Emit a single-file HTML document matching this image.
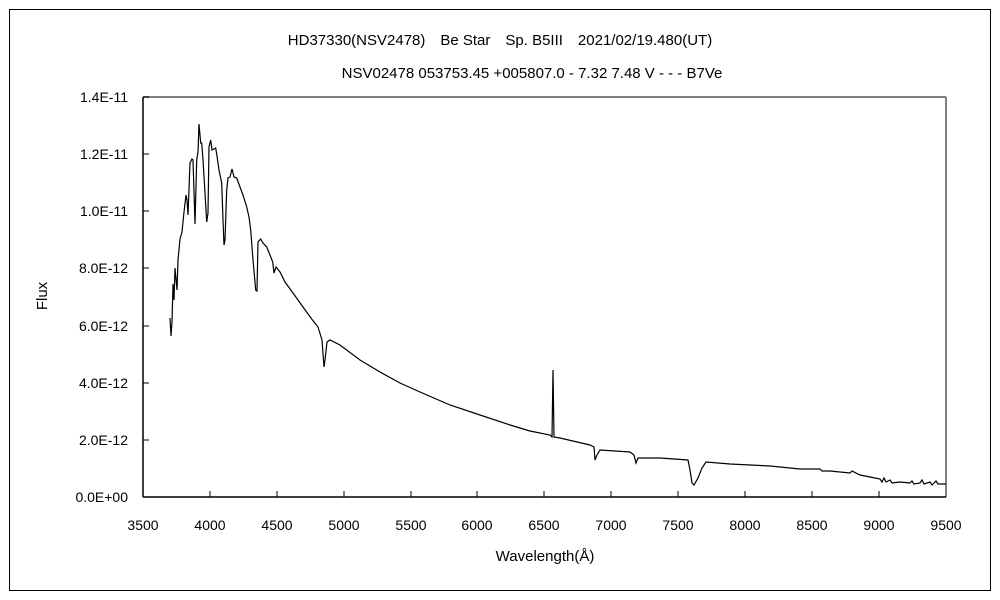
<!DOCTYPE html>
<html><head><meta charset="utf-8"><style>
body{margin:0;background:#fff;}
svg{display:block;font-family:"Liberation Sans","Noto Sans CJK JP",sans-serif;}
</style></head><body>
<svg width="1000" height="600" viewBox="0 0 1000 600">
<rect x="0" y="0" width="1000" height="600" fill="#fff"/>
<rect x="9.5" y="9.5" width="981" height="581" fill="none" stroke="#000" stroke-width="1"/>
<text x="500" y="45" font-size="15" text-anchor="middle">HD37330(NSV2478)　Be Star　Sp. B5III　2021/02/19.480(UT)</text>
<text x="532" y="78" font-size="15" text-anchor="middle">NSV02478 053753.45 +005807.0 - 7.32 7.48 V - - - B7Ve</text>
<line x1="143" y1="97" x2="946" y2="97" stroke="#808080" stroke-width="2"/>
<line x1="946" y1="97" x2="946" y2="497" stroke="#808080" stroke-width="2"/>
<line x1="143" y1="97" x2="143" y2="497" stroke="#000" stroke-width="1.5"/>
<line x1="143" y1="497" x2="946" y2="497" stroke="#000" stroke-width="1.5"/>
<g stroke="#000" stroke-width="1">
<line x1="143" y1="97" x2="149" y2="97"/><line x1="143" y1="154" x2="149" y2="154"/><line x1="143" y1="211" x2="149" y2="211"/><line x1="143" y1="268" x2="149" y2="268"/><line x1="143" y1="326" x2="149" y2="326"/><line x1="143" y1="383" x2="149" y2="383"/><line x1="143" y1="440" x2="149" y2="440"/>
<line x1="210" y1="497" x2="210" y2="491"/><line x1="277" y1="497" x2="277" y2="491"/><line x1="344" y1="497" x2="344" y2="491"/><line x1="411" y1="497" x2="411" y2="491"/><line x1="477" y1="497" x2="477" y2="491"/><line x1="544" y1="497" x2="544" y2="491"/><line x1="611" y1="497" x2="611" y2="491"/><line x1="678" y1="497" x2="678" y2="491"/><line x1="745" y1="497" x2="745" y2="491"/><line x1="812" y1="497" x2="812" y2="491"/><line x1="879" y1="497" x2="879" y2="491"/>
</g>
<g font-size="14" text-anchor="end">
<text x="128" y="102">1.4E-11</text><text x="128" y="159">1.2E-11</text><text x="128" y="216">1.0E-11</text><text x="128" y="273">8.0E-12</text><text x="128" y="331">6.0E-12</text><text x="128" y="388">4.0E-12</text><text x="128" y="445">2.0E-12</text><text x="128" y="502">0.0E+00</text>
</g>
<g font-size="14" text-anchor="middle">
<text x="143" y="530">3500</text><text x="210" y="530">4000</text><text x="277" y="530">4500</text><text x="344" y="530">5000</text><text x="411" y="530">5500</text><text x="477" y="530">6000</text><text x="544" y="530">6500</text><text x="611" y="530">7000</text><text x="678" y="530">7500</text><text x="745" y="530">8000</text><text x="812" y="530">8500</text><text x="879" y="530">9000</text><text x="946" y="530">9500</text>
</g>
<text x="545" y="561" font-size="15" text-anchor="middle">Wavelength(Å)</text>
<text transform="translate(47,296) rotate(-90)" font-size="15" text-anchor="middle">Flux</text>
<polyline fill="none" stroke="#000" stroke-width="1.2" points="170,318 171,336 172,322 173,284 174,300 175,268 177,290 178,260 180,239 182,232 184,212 186,195 187,200 188,215 190,163 192,159 193,160 195,224 196.7,160 198,152 199,124 200.7,143 201.7,143 203,160 205,193 206.7,222 208,213 209,147 210.7,140 212,150 215.7,148 217,156 219,170 221.7,183 223,220 224,245 225,240 226.7,190 228,178 230,177 232,169 234,177 236.7,178 240,187 243,195 246.7,207 249,217 250.7,230 253,260 255.7,290 257,291 258,242 260.7,239 263,243 266.7,247 270,255 272.7,262 274,273 276,267 280,272 285,282 293,293 303,307 311.7,319 318,327 322,340 324,367 325,360 327,342 330,340 340,345 360,360 380,372 400,383 420,392 450,405 480,415 510,425 530,431 550,435 552,437 553,370 554,437 560,438 590,445 594,447 595,460 597,455 600,450 630,452 634,455 636,463 638,458 642,458 660,458 688,460 690,470 692,483 694,485 698,478 702,468 706,462 730,464 770,466 800,469 820,469 822,471 830,471 850,473 852,471 860,475 870,477 880,479 882,482 884,478 886,482 890,480 892,483 900,482 910,483 912,481 914,484 920,483 922,480 924,484 930,482 932,485 936,481 938,484 946,484"/>
</svg>
</body></html>
